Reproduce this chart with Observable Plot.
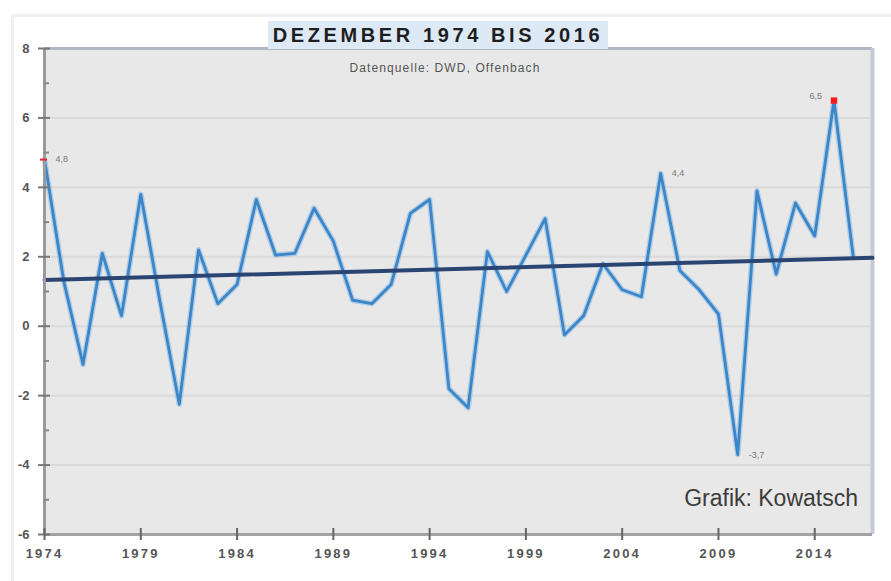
<!DOCTYPE html>
<html>
<head>
<meta charset="utf-8">
<script src="https://cdn.jsdelivr.net/npm/d3@7"></script>
<script src="https://cdn.jsdelivr.net/npm/@observablehq/plot@0.6"></script>
<style>
  body { margin: 0; background: #ffffff; font-family: "Liberation Sans", Arial, sans-serif; }
  #wrap { position: relative; width: 891px; height: 581px; overflow: hidden; }
  #frame { position: absolute; left: 11px; top: 14px; width: 900px; height: 600px;
           border-top: 3px solid #f0f0f0; border-left: 3px solid #f0f0f0; }
  #chart { position: absolute; left: 0; top: 0; }
  #titlebox { position: absolute; left: 268px; top: 21px; width: 340px; height: 28px;
              background: #dde9f5; text-align: center; line-height: 29px;
              font-weight: bold; font-size: 20px; letter-spacing: 3.6px; color: #1e1e1e; }
  #subtitle { position: absolute; left: 295px; width: 300px; top: 61px; text-align: center;
              font-size: 12px; letter-spacing: 1.1px; color: #555; }
  #credit { position: absolute; right: 33px; top: 485px; font-size: 23px; color: #3c3c3c; }
  g.xlab text { letter-spacing: 2.2px; }
</style>
</head>
<body>
<div id="wrap">
  <div id="frame"></div>
  <div id="chart"></div>
  <div id="titlebox">DEZEMBER 1974 BIS 2016</div>
  <div id="subtitle">Datenquelle: DWD, Offenbach</div>
  <div id="credit">Grafik: Kowatsch</div>
</div>
<script>
// ---- data ----
const years = [1974,1975,1976,1977,1978,1979,1980,1981,1982,1983,1984,1985,1986,1987,1988,1989,
  1990,1991,1992,1993,1994,1995,1996,1997,1998,1999,2000,2001,2002,2003,2004,2005,2006,2007,
  2008,2009,2010,2011,2012,2013,2014,2015,2016];
const temps = [4.8,1.3,-1.1,2.1,0.3,3.8,0.7,-2.25,2.2,0.65,1.2,3.65,2.05,2.1,3.4,2.45,
  0.75,0.65,1.2,3.25,3.65,-1.8,-2.35,2.15,1.0,2.05,3.1,-0.25,0.3,1.8,1.05,0.85,4.4,1.6,
  1.05,0.35,-3.7,3.9,1.5,3.55,2.6,6.5,2.0];
const trendYears = [1974, 2017];
const trendValues = [1.33, 1.97];
const xTicks = [1974,1979,1984,1989,1994,1999,2004,2009,2014];
const yTicks = [-6,-4,-2,0,2,4,6,8];
const yMinor = [-5,-3,-1,1,3,5,7];
const gridY = [-4,-2,0,2,4,6];
const labelYears = [1974, 2006, 2010];
const labelValues = [4.8, 4.4, -3.7];
const labelTexts = ["4,8", "4,4", "-3,7"];
const maxYear = [2015], maxValue = [6.5], maxText = ["6,5"];
const firstYear = [1974], firstValue = [4.8];

const series = years.map((y, i) => ({year: y, value: temps[i]}));
const trend = trendYears.map((y, i) => ({year: y, value: trendValues[i]}));
const labels = labelYears.map((y, i) => ({year: y, value: labelValues[i], text: labelTexts[i]}));
const maxLab = maxYear.map((y, i) => ({year: y, value: maxValue[i], text: maxText[i]}));
const firstPt = firstYear.map((y, i) => ({year: y, value: firstValue[i]}));

const chart = Plot.plot({
  width: 891,
  height: 581,
  marginLeft: 44,
  marginRight: 19,
  marginTop: 48,
  marginBottom: 47,
  style: {background: "transparent", fontFamily: "'Liberation Sans', Arial, sans-serif"},
  x: {domain: [1974, 2017], axis: null},
  y: {domain: [-6, 8], axis: null},
  marks: [
    Plot.frame({fill: "#e8e8e8", stroke: "none"}),
    Plot.ruleY(gridY, {stroke: "#dadada", strokeWidth: 2}),
    Plot.ruleY([8], {stroke: "#b3b7c5", strokeWidth: 3}),
    Plot.ruleX([2017], {stroke: "#c6cad6", strokeWidth: 4}),
    Plot.line(series, {x: "year", y: "value", stroke: "#8cb9e2", strokeWidth: 5.5, strokeOpacity: 0.6}),
    Plot.line(series, {x: "year", y: "value", stroke: "#3a86c9", strokeWidth: 2.8}),
    Plot.line(trend, {x: "year", y: "value", stroke: "#2b4573", strokeWidth: 4}),
    Plot.ruleX([1974], {stroke: "#9a9a9a", strokeWidth: 3}),
    Plot.ruleY([-6], {stroke: "#a2a2a2", strokeWidth: 3}),
    Plot.ruleY(yTicks, {x1: 1974, x2: 1974, insetLeft: -6, insetRight: -6, stroke: "#777", strokeWidth: 2}),
    Plot.ruleY(yMinor, {x1: 1974, x2: 1974, insetLeft: 0, insetRight: -5, stroke: "#888", strokeWidth: 2}),
    Plot.ruleX(xTicks, {y1: -6, y2: -6, insetTop: -6, insetBottom: -6, stroke: "#666", strokeWidth: 2}),
    Plot.ruleY(firstPt, {y: "value", x1: "year", x2: "year", insetLeft: -4, insetRight: -3, stroke: "#e8243a", strokeWidth: 2}),
    Plot.dot(maxLab, {x: "year", y: "value", symbol: "square", r: 3.6, fill: "#ff1a1a", stroke: "none"}),
    Plot.text(labels, {x: "year", y: "value", text: "text", dx: 11, textAnchor: "start", fontSize: 9, fill: "#777"}),
    Plot.text(maxLab, {x: "year", y: "value", text: "text", dx: -12, dy: -4, textAnchor: "end", fontSize: 9, fill: "#777"}),
    Plot.text(yTicks, {frameAnchor: "left", y: d => d, text: d => String(d), dx: -15, textAnchor: "end",
      fontSize: 13, fontWeight: "bold", fill: "#555"}),
    Plot.text(xTicks, {x: d => d, y: () => -6, text: d => String(d), dy: 19, fontSize: 13,
      fontWeight: "bold", fill: "#555", className: "xlab"})
  ]
});
document.getElementById("chart").appendChild(chart);
</script>
</body>
</html>
